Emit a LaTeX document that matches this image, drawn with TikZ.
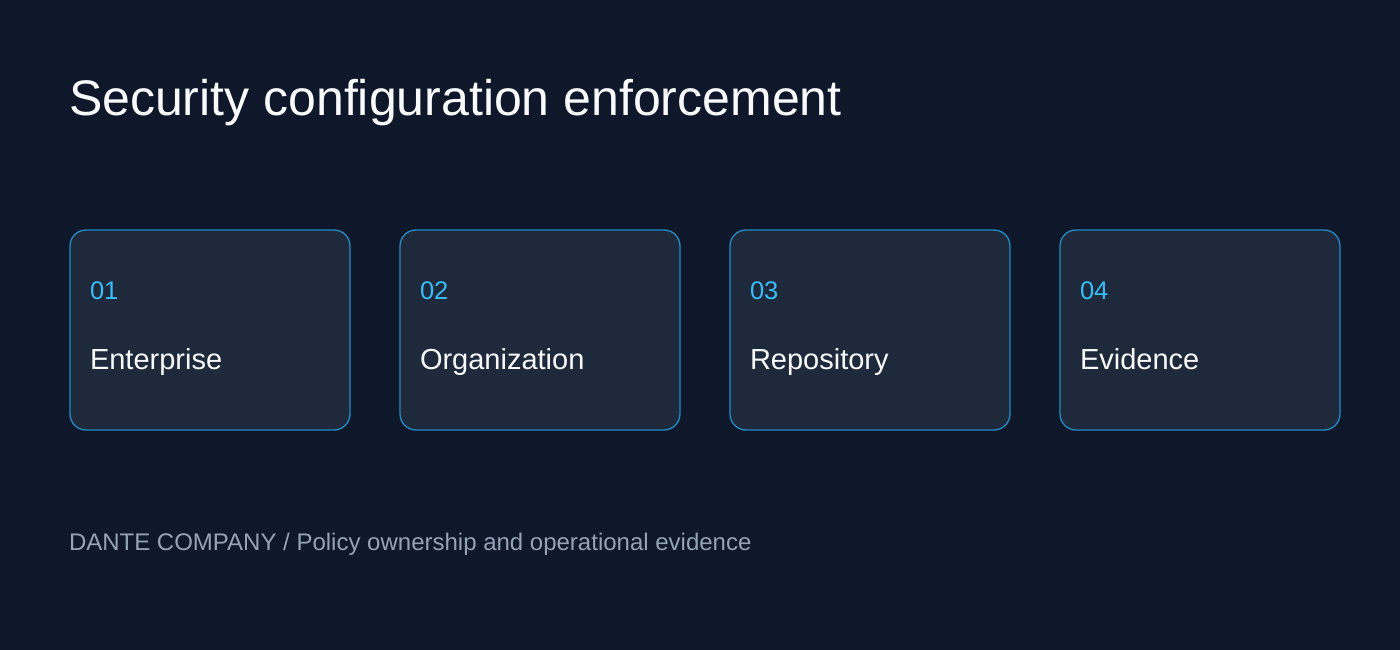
\documentclass[tikz,border=0pt]{standalone}
\usepackage{fontspec}
\setmainfont{Liberation Sans}
\usetikzlibrary{positioning}
\definecolor{bgdark}{HTML}{0F172A}
\definecolor{cardfill}{HTML}{1E293B}
\definecolor{cardline}{RGB}{36,140,196}
\definecolor{numblue}{HTML}{38BDF8}
\definecolor{titlewhite}{HTML}{F8FAFC}
\definecolor{footgray}{HTML}{94A3B8}
\begin{document}
\begin{tikzpicture}[x=1pt, y=-1pt]
\tikzset{every node/.style={inner sep=0pt, outer sep=0pt}}
\tikzset{card/.style={draw=cardline, line width=1.3pt, fill=cardfill, rounded corners=16pt,
                      minimum width=280pt, minimum height=200pt, anchor=north west}}
\tikzset{num/.style={anchor=base west, text=numblue, font=\fontsize{25.5}{30}\selectfont}}
\tikzset{label/.style={anchor=base west, text=titlewhite, font=\fontsize{29}{34}\selectfont}}
%\tikzset{label/.style={anchor=base west, text=white, font=\Large}}
\fill[bgdark] (0,0) rectangle (1400,650);
\useasboundingbox (0,0) rectangle (1400,650);
\node[anchor=base west, text=titlewhite, font=\fontsize{50}{58}\selectfont] (title) at (69,116) {Security configuration enforcement};
\node[card] (enterprise) at (70,230) {};
\node[card, right=50pt of enterprise] (organization) {};
\node[card, right=50pt of organization] (repository) {};
\node[card, right=50pt of repository] (evidence) {};
\node[num] (n1) at ([xshift=20pt, yshift=-69pt]enterprise.north west) {01};
\node[label] (l1) at ([xshift=20pt, yshift=-139pt]enterprise.north west) {Enterprise};
\node[num] (n2) at ([xshift=20pt, yshift=-69pt]organization.north west) {02};
\node[label] (l2) at ([xshift=20pt, yshift=-139pt]organization.north west) {Organization};
\node[num] (n3) at ([xshift=20pt, yshift=-69pt]repository.north west) {03};
\node[label] (l3) at ([xshift=20pt, yshift=-139pt]repository.north west) {Repository};
\node[num] (n4) at ([xshift=20pt, yshift=-69pt]evidence.north west) {04};
\node[label] (l4) at ([xshift=20pt, yshift=-139pt]evidence.north west) {Evidence};
\node[anchor=base west, text=footgray, font=\fontsize{24}{28}\selectfont] (footer) at (69,550) {DANTE COMPANY / Policy ownership and operational evidence};
\end{tikzpicture}
\end{document}
